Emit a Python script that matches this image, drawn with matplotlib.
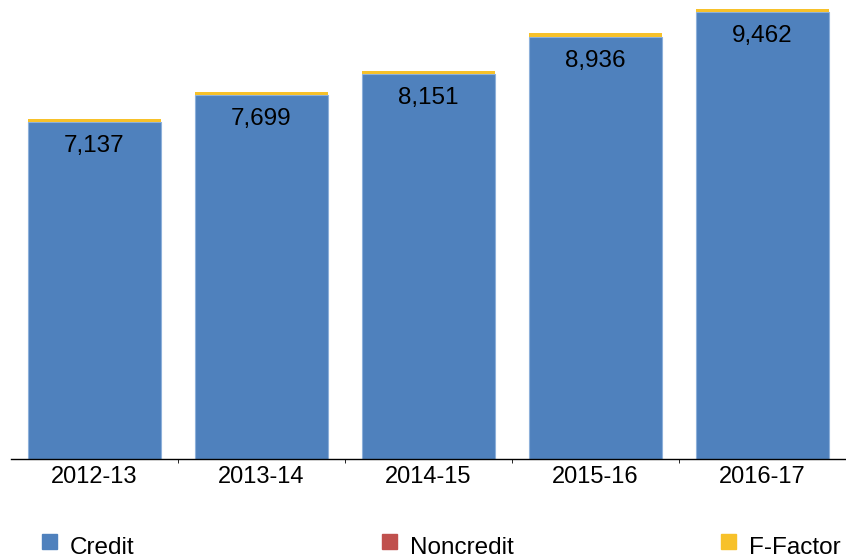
import matplotlib.pyplot as plt
from matplotlib.patches import Rectangle

plt.rcParams['font.family'] = ['Liberation Sans', 'DejaVu Sans']

years = ['2012-13', '2013-14', '2014-15', '2015-16', '2016-17']
credit = [7137, 7699, 8151, 8936, 9462]
noncredit = [0, 0, 0, 0, 0]
ffactor = [70, 70, 75, 75, 70]

series_names = ['Credit', 'Noncredit', 'F-Factor']
blue = '#4f81bd'
red = '#c0504d'
gold = '#f7c12a'

W, H = 846, 560
fig = plt.figure(figsize=(W / 100, H / 100), dpi=100)
ax = fig.add_axes([0.013, 0.18, 0.987, 0.82])

x = range(len(years))
ax.bar(x, credit, width=0.8, color=blue, edgecolor='#8db0da', linewidth=0.8)
ax.bar(x, noncredit, width=0.8, bottom=credit, color=red, linewidth=0)
ff_bottom = [c + n for c, n in zip(credit, noncredit)]
ax.bar(x, ffactor, width=0.8, bottom=ff_bottom, color=gold, linewidth=0)

for i, v in enumerate(credit):
    ax.text(i, v - 500, f'{v:,}', ha='center', va='center', fontsize=17.5)

ax.set_xlim(-0.5, len(years) - 0.5)
ax.set_ylim(0, 9720)
ax.set_xticks(list(x))
ax.set_xticklabels(years, fontsize=17)
ax.set_xticks([i + 0.5 for i in range(len(years) - 1)], minor=True)
ax.tick_params(axis='x', which='major', length=0, pad=5)
ax.tick_params(axis='x', which='minor', length=3, direction='out')
ax.set_yticks([])
for s in ['top', 'right', 'left']:
    ax.spines[s].set_visible(False)
ax.spines['bottom'].set_linewidth(1.0)

# legend row along the bottom
for name, col, px in zip(series_names, [blue, red, gold], [42, 382, 721]):
    fig.patches.append(Rectangle((px / W, 1 - 549 / H), 15 / W, 15 / H,
                                 transform=fig.transFigure, color=col))
    fig.text((px + 28) / W, 1 - 548 / H, name, ha='left', va='center',
             fontsize=17.5)

fig.savefig('out.png', dpi=100)
